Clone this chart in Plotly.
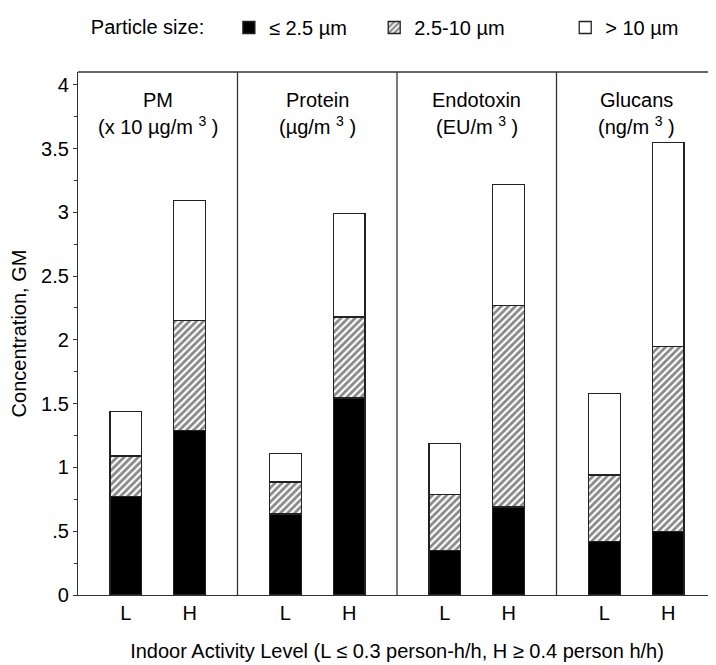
import plotly.graph_objects as go

# ---- data ----
panels = ["PM", "Protein", "Endotoxin", "Glucans"]
units = ["(x 10 µg/m <sup>3</sup> )", "(µg/m <sup>3</sup> )", "(EU/m <sup>3</sup> )", "(ng/m <sup>3</sup> )"]
levels = ["L", "H"]
# cumulative tops: order per panel = [L, H]
fine_top = [[0.77, 1.29], [0.635, 1.545], [0.35, 0.69], [0.42, 0.50]]      # <= 2.5 um
coarse_top = [[1.09, 2.15], [0.885, 2.18], [0.79, 2.27], [0.94, 1.95]]     # 2.5-10 um
total_top = [[1.44, 3.09], [1.11, 2.99], [1.19, 3.22], [1.58, 3.55]]       # > 10 um
series_names = ["≤ 2.5 µm", "2.5-10 µm", "> 10 µm"]
ytick_vals = [0, 0.5, 1, 1.5, 2, 2.5, 3, 3.5, 4]
ytick_text = ["0", ".5", "1", "1.5", "2", "2.5", "3", "3.5", "4"]

level_offset = {"L": 0.3, "H": 0.7}
xs, fine, coarse, large, xt = [], [], [], [], []
for i, p in enumerate(panels):
    for j, lv in enumerate(levels):
        xs.append(i + level_offset[lv])
        xt.append(lv)
        fine.append(fine_top[i][j])
        coarse.append(coarse_top[i][j] - fine_top[i][j])
        large.append(total_top[i][j] - coarse_top[i][j])

FONT = "Liberation Sans, Arial, sans-serif"
FS = 20
NB = "\u00a0"
pad = [NB * 4, NB * 10, ""]  # extra gap after each legend entry
line = dict(color="#222", width=1.3)
fig = go.Figure()
fig.add_bar(x=xs, y=fine, name=series_names[0] + pad[0], width=0.2,
            marker=dict(color="black", line=line))
fig.add_bar(x=xs, y=coarse, name=series_names[1] + pad[1], width=0.2,
            marker=dict(color="white", line=line,
                        pattern=dict(shape="/", fgcolor="#111", bgcolor="white",
                                     size=5, solidity=0.55)))
fig.add_bar(x=xs, y=large, name=series_names[2] + pad[2], width=0.2,
            marker=dict(color="white", line=line))

shapes = []
for i in range(1, len(panels)):
    shapes.append(dict(type="line", xref="x", yref="paper", x0=i, x1=i, y0=0, y1=1,
                       line=dict(color="#333", width=1.3)))
shapes.append(dict(type="line", xref="paper", yref="paper", x0=0, x1=1, y0=1, y1=1,
                   line=dict(color="#333", width=1.3)))
shapes.append(dict(type="line", xref="paper", yref="paper", x0=1, x1=1, y0=0, y1=1,
                   line=dict(color="#333", width=1.3)))

annotations = []
for i, (p, u) in enumerate(zip(panels, units)):
    annotations.append(dict(x=i + 0.5, xref="x", y=0.946, yref="paper", text=p,
                            showarrow=False, font=dict(size=FS, family=FONT, color="black"),
                            yanchor="middle"))
    annotations.append(dict(x=i + 0.5, xref="x", y=0.898, yref="paper", text=u,
                            showarrow=False, font=dict(size=FS, family=FONT, color="black"),
                            yanchor="middle"))

# page body has an 8px margin: size the figure so it ends at the window edge
fig.update_layout(
    barmode="stack",
    width=708, height=657,
    margin=dict(l=70, r=0, t=64, b=70),
    plot_bgcolor="white", paper_bgcolor="white",
    font=dict(family=FONT, size=FS, color="black"),
    shapes=shapes, annotations=annotations,
    legend=dict(orientation="h", x=0.017, y=1.086, xanchor="left", yanchor="middle",
                title=dict(text="Particle size:" + NB * 3, font=dict(size=FS)),
                font=dict(size=FS), traceorder="normal", itemclick=False),
    xaxis=dict(range=[0, len(panels)], tickvals=xs, ticktext=xt, showline=True,
               linecolor="#333", linewidth=1.3, ticks="", showgrid=False, zeroline=False,
               title=dict(text="Indoor Activity Level (L ≤ 0.3 person-h/h, H ≥ 0.4 person h/h)",
                          font=dict(size=FS), standoff=20),
               tickfont=dict(size=FS)),
    yaxis=dict(range=[0, 4.1], tickvals=ytick_vals, ticktext=ytick_text, showline=True,
               linecolor="#333", linewidth=1.3, ticks="outside", ticklen=4, tickcolor="#333",
               showgrid=False, zeroline=False,
               minor=dict(tickvals=[0.25, 0.75, 1.25, 1.75, 2.25, 2.75, 3.25, 3.75],
                          ticks="outside", ticklen=3, tickcolor="#333", showgrid=False),
               title=dict(text="Concentration, GM", font=dict(size=FS), standoff=12),
               tickfont=dict(size=FS)),
)
fig.write_html("out.html")
